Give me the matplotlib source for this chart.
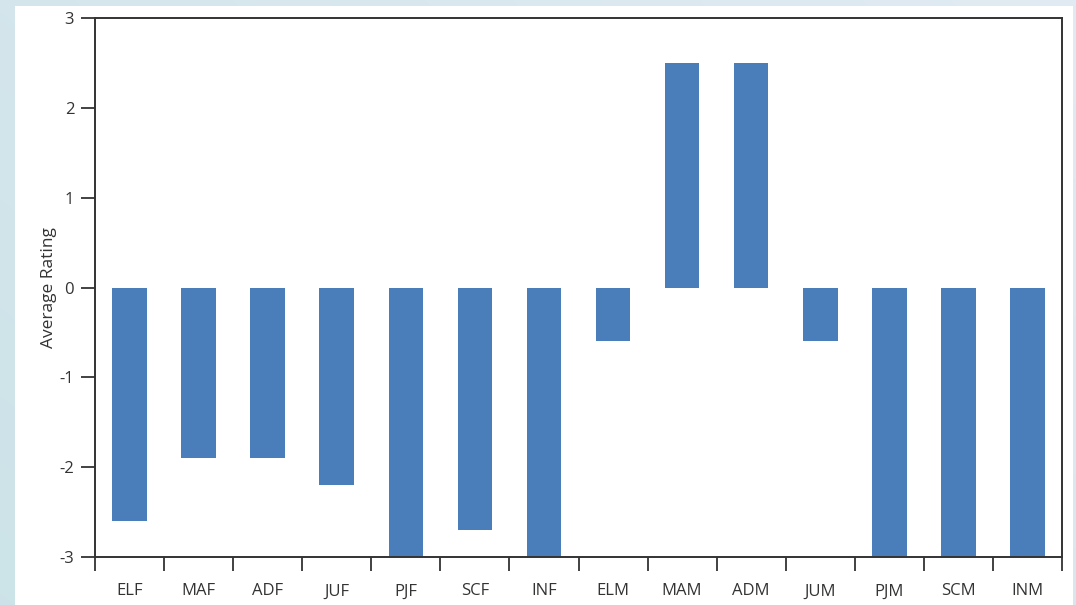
import numpy as np
import matplotlib
matplotlib.use("Agg")
import matplotlib.pyplot as plt
from matplotlib.patches import Rectangle

# Datos
categories = ["ELF", "MAF", "ADF", "JUF", "PJF", "SCF", "INF",
              "ELM", "MAM", "ADM", "JUM", "PJM", "SCM", "INM"]
ratings = [-2.6, -1.9, -1.9, -2.2, -3.0, -2.7, -3.0,
           -0.6, 2.5, 2.5, -0.6, -3.0, -3.0, -3.0]
y_ticks = [-3, -2, -1, 0, 1, 2, 3]

plt.rcParams['font.family'] = ['Open Sans', 'DejaVu Sans']

W, H = 1076, 605
fig = plt.figure(figsize=(W / 100, H / 100), dpi=100)

# fondo con degradado
bg = fig.add_axes([0, 0, 1, 1], zorder=-10)
grad = np.linspace(0, 1, 256)
gx, gy = np.meshgrid(grad, grad)
c1 = np.array([0.80, 0.89, 0.91])
c2 = np.array([0.88, 0.92, 0.95])
t = (0.6 * gx + 0.4 * (1 - gy))[..., None]
img = c1 * (1 - t) + c2 * t
bg.imshow(img, extent=[0, 1, 0, 1], aspect='auto', origin='upper')
bg.add_patch(Rectangle((15 / W, 0), (1073 - 15) / W, (605 - 6) / H,
                       facecolor='white', edgecolor='none'))
bg.set_xlim(0, 1)
bg.set_ylim(0, 1)
bg.axis('off')

# ejes
left, right, top, bottom = 95, 1062, 18, 557
ax = fig.add_axes([left / W, 1 - bottom / H, (right - left) / W, (bottom - top) / H])
ax.set_facecolor('none')

x = np.arange(len(categories))
ax.bar(x, ratings, width=0.5, color='#4a7ebb')

ax.set_xlim(-0.5, len(categories) - 0.5)
ax.set_ylim(-3, 3)
ax.set_yticks(y_ticks)
ax.set_yticklabels([str(v) for v in y_ticks])
ax.set_xticks(np.arange(len(categories) + 1) - 0.5)
ax.set_xticklabels([])
ax.set_xticks(x, minor=True)
ax.set_xticklabels(categories, minor=True)
ax.tick_params(axis='x', which='major', length=10, width=1.3, color='#333333', direction='out')
ax.tick_params(axis='x', which='minor', length=0, pad=19, labelsize=12, labelcolor='#333333')
ax.tick_params(axis='y', length=10, width=1.3, color='#333333', labelsize=12,
               labelcolor='#333333', pad=5)
for s in ax.spines.values():
    s.set_color('#333333')
    s.set_linewidth(1.4)

ax.set_ylabel('Average Rating', fontsize=12.5, color='#333333', labelpad=2)

fig.savefig('out.png', dpi=100)
